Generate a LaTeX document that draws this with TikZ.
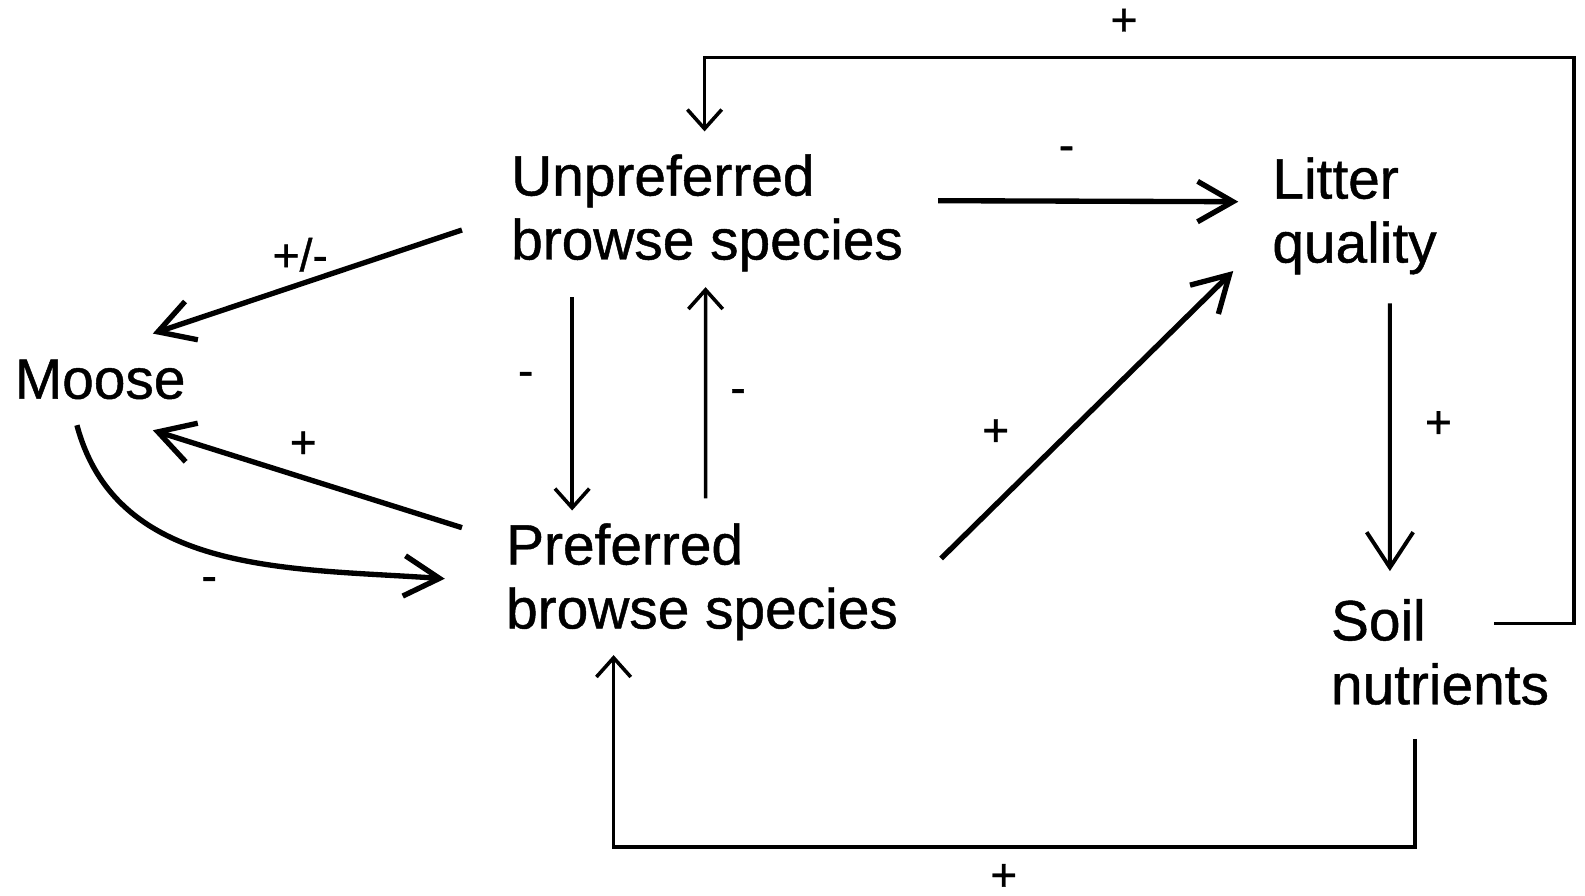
\documentclass[tikz,border=0pt]{standalone}
\usepackage{fontspec}
\setmainfont[FakeBold=0.8]{Liberation Sans}
\usetikzlibrary{arrows.meta}
\usetikzlibrary{calc}
\usetikzlibrary{positioning}
\tikzset{var/.style={align=left,inner sep=0pt,anchor=north west,font=\fontsize{16}{18}\selectfont},
sign/.style={inner sep=0pt,font=\fontsize{13}{13}\selectfont},
link/.style={line width=1pt,-{Straight Barb[length=1.9mm,width=3.4mm]}},
bigtip/.style={line width=1.1pt,-{Straight Barb[length=3.5mm,width=4.6mm]}},
thick link/.style={line width=1.5pt,-{Straight Barb[length=3.5mm,width=4mm]}}}

\begin{document}
\begin{tikzpicture}
\useasboundingbox (0,0) rectangle (15.68,8.86);

\node (moose) at (0.14,5.31) [var] {Moose};
\node (unpref) at (5.05,7.34) [var] {Unpreferred\\browse species};
\node (pref) at (5.00,3.69) [var] {Preferred\\browse species};
\node (litter) at (12.58,7.31) [var] {Litter\\quality};
\node (soil) at (13.16,2.94) [var] {Soil\\nutrients};

% moose links
\draw[thick link] ($(unpref.west)+(-0.48,-0.17)$) -- ($(moose.north east)+(-0.33,0.25)$);
\draw[thick link] ($(pref.north west)+(-0.43,-0.05)$) -- ($(moose.south east)+(-0.33,-0.30)$);
\draw[thick link] ($(moose.south)+(-0.23,-0.25)$) to[out=-75,in=176] ($(pref.west)+(-0.60,0.03)$);
\node (s1) at (2.97,6.34) [sign] {+/-};
\node (s2) at (3.00,4.46) [sign] {+};
\node (s3) at (2.07,3.08) [sign] {-};

% between browse species
\draw[link] ($(unpref.south west)+(0.61,-0.25)$) -- ($(pref.north west)+(0.66,0.12)$);
\draw[link] ($(pref.north west)+(1.98,0.24)$) -- ($(unpref.south west)+(1.93,-0.15)$);
\node (s4) at (5.20,5.11) [sign] {-};
\node (s5) at (7.30,4.94) [sign] {-};

% litter and soil
\draw[thick link] ($(unpref.east)+(0.34,0.12)$) -- ($(litter.west)+(-0.33,0.14)$);
\draw[thick link] ($(pref.east)+(0.42,0.23)$) -- ($(litter.south west)+(-0.38,0.04)$);
\draw[bigtip] ($(litter.south west)+(1.17,-0.28)$) -- ($(soil.north west)+(0.59,0.27)$);
\node (s6) at (10.55,7.34) [sign] {-};
\node (s7) at (9.85,4.58) [sign] {+};
\node (s8) at (14.23,4.66) [sign] {+};

% feedback loops
\coordinate (tr) at (15.57,8.29);
\coordinate (bot) at (0,0.48);
\coordinate (pin) at ($(pref.south west)+(1.07,-0.14)$);
\draw[link] ($(soil.north west)+(1.62,-0.25)$) -| (tr) -| ($(unpref.north west)+(1.92,0.22)$);
\draw[link] ($(soil.south west)+(0.84,-0.33)$) |- (pin |- bot) -- (pin);
\node (s9) at (11.12,8.64) [sign] {+};
\node (s10) at (9.93,0.18) [sign] {+};

\end{tikzpicture}
\end{document}
